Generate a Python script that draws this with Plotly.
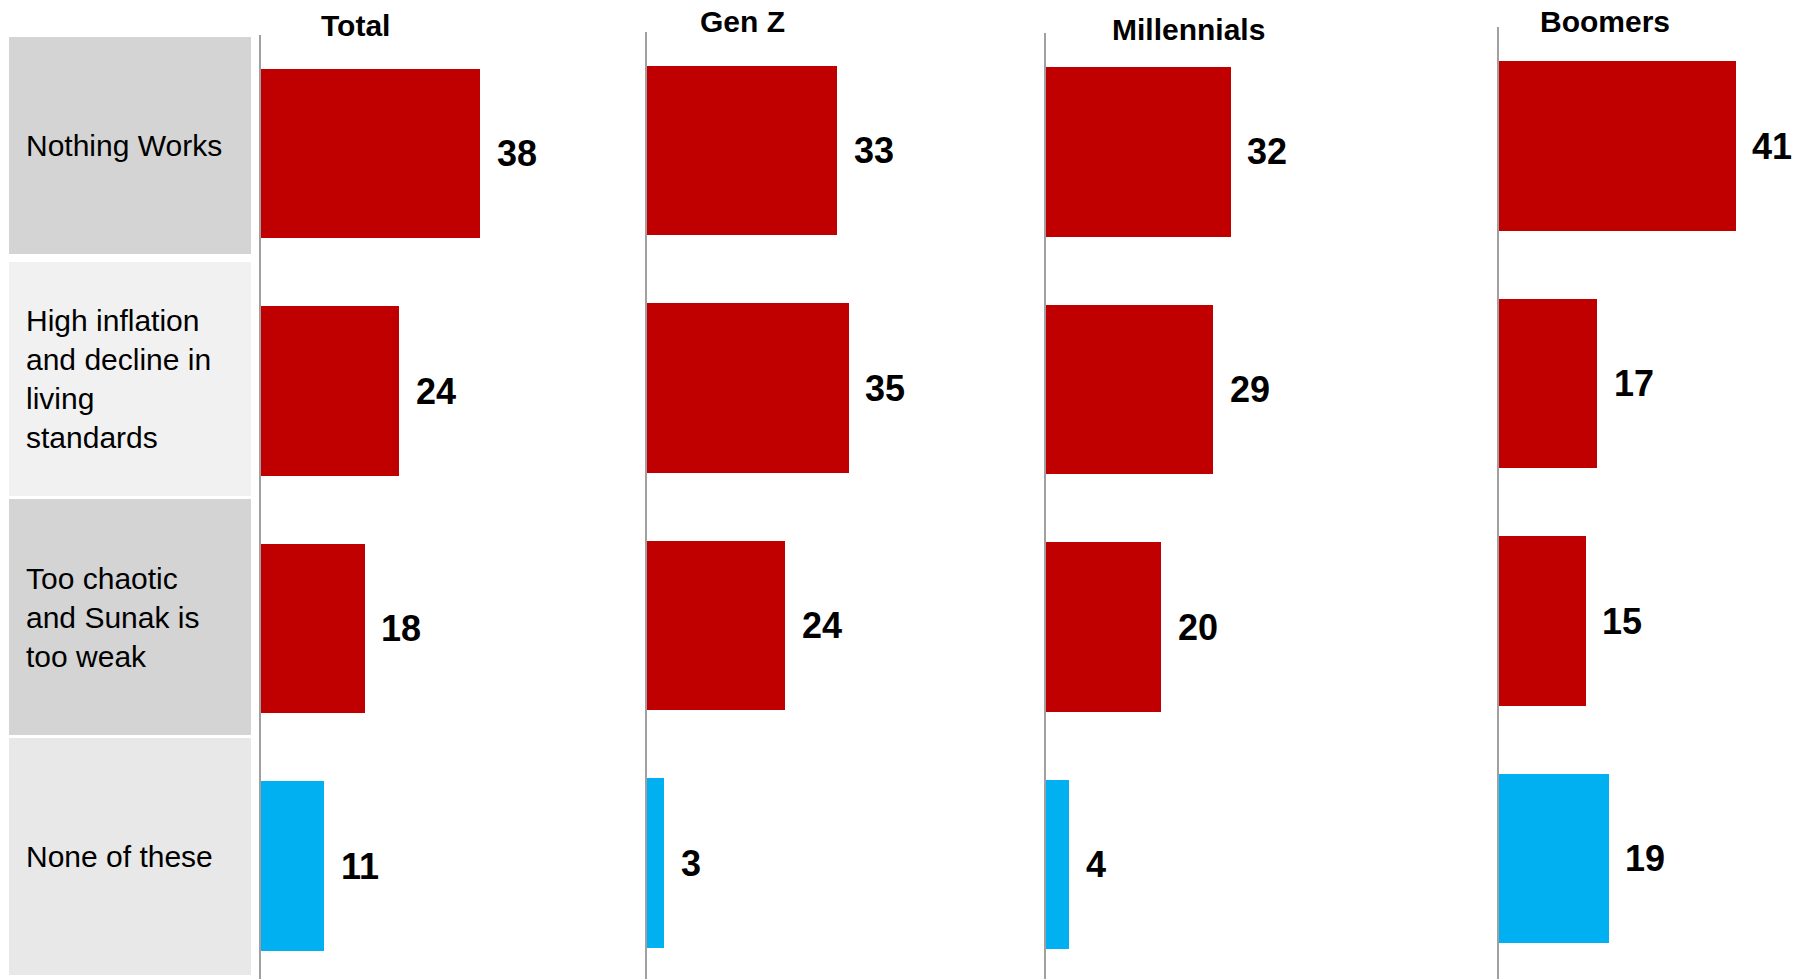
import plotly.graph_objects as go

# ---- data ----
categories = [
    "Nothing Works",
    "High inflation<br>and decline in<br>living<br>standards",
    "Too chaotic<br>and Sunak is<br>too weak",
    "None of these",
]
groups = ["Total", "Gen Z", "Millennials", "Boomers"]
total = [38, 24, 18, 11]
gen_z = [33, 35, 24, 3]
millennials = [32, 29, 20, 4]
boomers = [41, 17, 15, 19]
series = [total, gen_z, millennials, boomers]
bar_colors = ["#C00000", "#C00000", "#C00000", "#00B0F0"]
box_colors = ["#D4D4D4", "#F1F1F1", "#D4D4D4", "#E8E8E8"]

# ---- layout geometry (screen pixels) ----
W, H = 1803, 979
ROW = 237.5      # px between category centres
PXU = 5.77       # px per percentage point
panels = [
    dict(x0=260.5, c0=153.5, top=35, tx=355, ty=25),
    dict(x0=646.5, c0=150.5, top=32, tx=742, ty=21.5),
    dict(x0=1045.5, c0=152.0, top=33, tx=1188, ty=29.5),
    dict(x0=1498.5, c0=146.0, top=27, tx=1605, ty=21.5),
]
box_rows = [(37, 254), (262, 496), (499, 735), (738, 975)]
FONT = "Arial, Liberation Sans, sans-serif"


def px(x):
    return x / W


def py(y):
    return 1 - y / H


fig = go.Figure()
annotations = []
layout = {}
ypos = list(range(len(categories)))

for k, (g, vals, p) in enumerate(zip(groups, series, panels)):
    sfx = "" if k == 0 else str(k + 1)
    xa, ya = "x" + sfx, "y" + sfx
    fig.add_trace(go.Bar(
        x=vals, y=ypos, orientation="h", width=0.712,
        marker=dict(color=bar_colors, line=dict(width=0)),
        xaxis=xa, yaxis=ya, showlegend=False, hoverinfo="skip",
    ))
    x1 = min(p["x0"] + 370, W)
    c0, top = p["c0"], p["top"]
    layout["xaxis" + sfx] = dict(
        domain=[px(p["x0"]), px(x1)], range=[0, (x1 - p["x0"]) / PXU],
        visible=False, anchor=ya, fixedrange=True,
    )
    layout["yaxis" + sfx] = dict(
        domain=[0, 1 - top / H],
        range=[(H - c0) / ROW, (top - c0) / ROW],
        showline=True, linecolor="#A0A0A0", linewidth=2,
        showgrid=False, zeroline=False, showticklabels=False, ticks="",
        anchor=xa, fixedrange=True,
    )
    for i, v in enumerate(vals):
        annotations.append(dict(
            x=v, y=i, xref=xa, yref=ya, text=str(v), showarrow=False,
            xanchor="left", yanchor="middle", xshift=15, yshift=0,
            font=dict(family=FONT, size=36, color="#000000", weight="bold"),
        ))
    annotations.append(dict(
        x=px(p["tx"]), y=py(p["ty"]), xref="paper", yref="paper",
        text=f"<b>{g}</b>", showarrow=False, xanchor="center", yanchor="middle",
        font=dict(family=FONT, size=30, color="#000000"),
    ))

shapes = []
for (t, b), col, cat in zip(box_rows, box_colors, categories):
    shapes.append(dict(
        type="rect", xref="paper", yref="paper",
        x0=px(9), x1=px(251), y0=py(b), y1=py(t),
        fillcolor=col, line=dict(width=0), layer="below",
    ))
    annotations.append(dict(
        x=px(24), y=py((t + b) / 2), xref="paper", yref="paper",
        text=cat, showarrow=False, xanchor="left", yanchor="middle", align="left",
        font=dict(family=FONT, size=30, color="#000000"),
    ))

fig.update_layout(
    width=W, height=H, margin=dict(l=0, r=0, t=0, b=0),
    paper_bgcolor="white", plot_bgcolor="rgba(0,0,0,0)",
    annotations=annotations, shapes=shapes, bargap=0,
    **layout,
)
fig.write_html(
    "out.html",
    config={"displayModeBar": False},
    post_script="document.body.style.margin='0';document.body.style.overflow='hidden';",
)
